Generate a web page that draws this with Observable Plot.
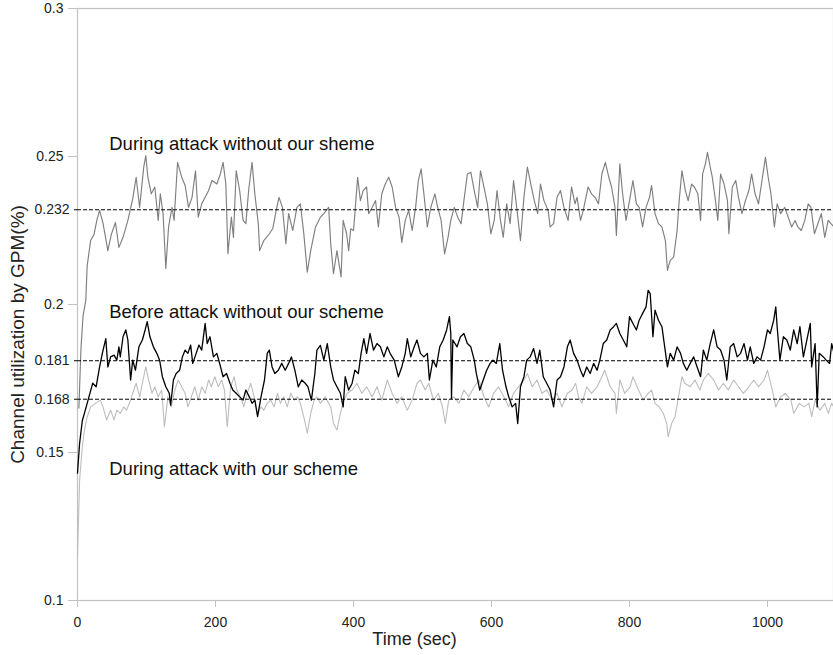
<!DOCTYPE html>
<html>
<head>
<meta charset="utf-8">
<script src="https://cdn.jsdelivr.net/npm/d3@7"></script>
<script src="https://cdn.jsdelivr.net/npm/@observablehq/plot@0.6"></script>
<style>
  html, body { margin: 0; padding: 0; background: #fff; }
</style>
</head>
<body>
<div id="chart"></div>
<script>
// ---- Data ----
// Series 1: During attack without our scheme (mid gray)
const attackNoSchemeT = [2,5,8,12,14,19,24,28,32,37,44,49,55,60,66,73,80,85,90,96,99,102,107,112,117,120,124,128,132,137,140,145,151,156,161,166,171,175,180,185,190,195,202,207,211,215,218,223,226,230,235,240,244,248,253,257,262,264,270,278,283,288,292,297,302,306,312,318,323,328,333,338,345,352,357,364,367,371,376,382,385,390,393,396,400,402,406,410,414,419,422,427,432,436,441,446,451,456,461,466,470,475,480,485,490,494,498,502,507,512,518,522,527,532,537,541,546,551,556,560,565,570,575,580,584,589,594,599,604,608,613,617,622,627,632,637,642,647,652,657,662,667,671,676,682,685,690,695,700,705,711,716,721,724,729,733,740,745,750,755,760,765,770,774,779,781,786,790,795,800,805,810,814,819,824,829,832,837,842,847,852,855,859,864,869,872,876,881,885,890,894,899,903,906,910,913,917,920,924,928,932,937,942,944,949,954,958,963,968,973,977,982,987,992,997,1001,1005,1010,1014,1019,1025,1030,1035,1040,1044,1049,1054,1059,1063,1068,1073,1078,1083,1088,1092,1097];
const attackNoSchemeV = [0.165,0.185,0.196,0.2014,0.213,0.2216,0.2237,0.2284,0.2318,0.2274,0.2182,0.2237,0.2277,0.2193,0.2227,0.2284,0.2357,0.243,0.2328,0.2464,0.2503,0.243,0.2374,0.2397,0.2284,0.2374,0.2307,0.2122,0.2262,0.2328,0.2284,0.248,0.243,0.2402,0.2328,0.2362,0.2452,0.2295,0.234,0.2362,0.2385,0.2419,0.2407,0.2441,0.248,0.2407,0.2172,0.2295,0.2227,0.2452,0.2385,0.2284,0.2273,0.2385,0.248,0.2374,0.2273,0.2182,0.2216,0.2239,0.2256,0.2318,0.2362,0.2328,0.2205,0.2307,0.225,0.2328,0.234,0.2239,0.2109,0.2182,0.2262,0.2295,0.2307,0.2328,0.2205,0.2104,0.2182,0.2093,0.2284,0.2239,0.2182,0.2256,0.225,0.2307,0.243,0.2351,0.2385,0.2397,0.2307,0.2328,0.2351,0.2262,0.2374,0.2407,0.243,0.2397,0.2328,0.2295,0.221,0.2284,0.2318,0.225,0.2328,0.2419,0.2458,0.2374,0.2262,0.2328,0.2374,0.2328,0.2284,0.2171,0.2227,0.2284,0.2328,0.2295,0.2273,0.2351,0.2441,0.2447,0.2385,0.2328,0.2452,0.2397,0.234,0.2239,0.2284,0.2385,0.2284,0.2227,0.234,0.2273,0.2419,0.2318,0.2216,0.2362,0.2464,0.2407,0.2351,0.2307,0.2407,0.2351,0.2318,0.2262,0.2273,0.2362,0.2385,0.2328,0.2284,0.2397,0.234,0.2362,0.2284,0.2318,0.2397,0.2374,0.2362,0.234,0.2441,0.248,0.243,0.2397,0.2328,0.2233,0.2475,0.2374,0.2284,0.2351,0.2419,0.234,0.2328,0.2262,0.2328,0.2362,0.2402,0.2307,0.2273,0.2262,0.2216,0.2115,0.2149,0.216,0.225,0.2351,0.2452,0.2385,0.2351,0.2407,0.2397,0.2374,0.2284,0.2441,0.2475,0.2514,0.2464,0.243,0.2362,0.2284,0.2441,0.2407,0.2351,0.2239,0.2397,0.2419,0.2362,0.2307,0.2351,0.2385,0.2441,0.2374,0.234,0.2419,0.2497,0.243,0.2374,0.2262,0.234,0.2307,0.2328,0.2295,0.2262,0.2284,0.2262,0.225,0.2284,0.234,0.2328,0.2239,0.2273,0.2307,0.2227,0.2284,0.2273,0.226];

// Series 2: Before attack without our scheme (black)
const beforeAttackT = [0,3,7,10,14,18,22,27,32,36,41,44,48,53,57,60,62,66,70,73,77,80,84,89,94,98,101,105,110,115,119,123,128,133,135,139,143,148,152,156,160,164,167,172,176,180,185,188,192,197,202,206,211,216,221,225,230,235,240,244,249,253,257,261,266,271,275,278,282,286,291,296,301,306,310,315,320,325,330,334,339,344,347,352,357,362,367,371,376,381,385,388,393,398,402,407,411,415,419,424,429,434,439,444,449,453,459,465,470,475,478,483,488,492,497,502,507,510,515,520,525,530,535,539,541,542,544,550,555,560,565,570,575,578,583,588,593,598,602,607,612,616,621,625,630,635,638,642,647,651,656,661,666,670,675,680,685,690,695,700,705,710,714,719,724,729,733,738,743,748,753,757,762,767,772,777,781,786,791,796,800,805,810,814,819,824,827,830,834,837,842,847,851,855,859,864,869,874,878,883,888,893,898,903,907,912,917,922,927,932,937,941,946,951,956,961,966,971,975,980,985,990,995,1000,1004,1009,1012,1014,1018,1023,1028,1033,1038,1043,1047,1052,1057,1062,1064,1069,1072,1075,1081,1085,1090,1093,1097];
const beforeAttackV = [0.143,0.153,0.1608,0.1632,0.1666,0.17,0.1734,0.1722,0.1789,0.1835,0.1885,0.1789,0.1823,0.1829,0.1812,0.1857,0.1823,0.1891,0.1914,0.188,0.1745,0.1812,0.1778,0.1857,0.188,0.1914,0.1942,0.1891,0.1857,0.1835,0.1812,0.1756,0.1722,0.17,0.166,0.1745,0.1767,0.1778,0.1823,0.1846,0.1835,0.1863,0.1801,0.1835,0.1863,0.1846,0.1936,0.1868,0.1891,0.1823,0.1835,0.1801,0.1756,0.1767,0.1734,0.1711,0.17,0.1688,0.1677,0.1711,0.1688,0.1666,0.1677,0.1621,0.1688,0.1745,0.1835,0.1846,0.1789,0.1767,0.1778,0.1801,0.1778,0.1801,0.1823,0.1778,0.1722,0.1745,0.1734,0.1722,0.1677,0.1767,0.1846,0.1862,0.1812,0.1868,0.1789,0.1745,0.1722,0.17,0.1654,0.1756,0.1711,0.1734,0.1778,0.1767,0.1835,0.1885,0.1835,0.1902,0.1846,0.1868,0.1857,0.1823,0.1857,0.1835,0.1812,0.1756,0.1789,0.1835,0.1885,0.1823,0.1857,0.188,0.1835,0.1823,0.1835,0.1745,0.1812,0.1789,0.1857,0.188,0.1914,0.1959,0.1902,0.1682,0.188,0.1857,0.1891,0.1902,0.1868,0.1857,0.1812,0.1767,0.1711,0.1745,0.1778,0.1801,0.1812,0.1801,0.1868,0.1778,0.1722,0.1688,0.1654,0.1666,0.1598,0.1722,0.1756,0.1812,0.1823,0.1851,0.1801,0.1846,0.1756,0.1734,0.1711,0.1654,0.1745,0.1756,0.1789,0.1857,0.188,0.1835,0.1812,0.1778,0.1756,0.1789,0.1767,0.1801,0.1778,0.1812,0.1868,0.188,0.1914,0.1925,0.1936,0.1902,0.188,0.1857,0.1959,0.1936,0.1914,0.1947,0.197,0.1992,0.2048,0.2037,0.1891,0.1981,0.1947,0.1925,0.1857,0.1789,0.1835,0.1812,0.1857,0.1835,0.1801,0.1778,0.1801,0.1823,0.1789,0.1756,0.1846,0.1812,0.1868,0.1914,0.1857,0.1846,0.1812,0.1745,0.1857,0.1868,0.1823,0.1835,0.1868,0.1812,0.1857,0.1801,0.1823,0.1812,0.1857,0.1914,0.1902,0.1947,0.1992,0.1925,0.1812,0.1891,0.188,0.1846,0.1914,0.1868,0.1925,0.1823,0.188,0.1936,0.1789,0.1868,0.1654,0.1835,0.1823,0.1812,0.1801,0.1868,0.183];

// Series 3: During attack with our scheme (light gray)
const attackSchemeT = [0,3,7,10,14,19,26,33,37,42,48,53,57,62,67,71,77,80,85,90,94,99,103,108,112,117,122,126,131,136,141,146,151,156,160,165,170,175,180,185,190,194,199,204,209,213,217,222,227,231,236,241,246,251,256,261,266,270,275,280,285,290,294,299,304,309,314,319,323,329,333,338,343,347,352,359,367,371,376,381,386,391,398,405,412,419,427,434,441,449,456,463,470,478,485,492,497,504,509,516,523,529,533,538,545,553,560,567,575,582,589,596,603,610,618,625,632,639,647,652,659,666,673,680,688,695,702,710,717,722,726,731,738,745,753,760,764,772,779,781,786,793,801,805,813,820,827,832,837,843,849,854,856,861,866,871,876,880,888,895,902,907,914,922,929,936,943,951,958,965,973,980,987,995,1000,1007,1012,1019,1026,1034,1038,1046,1053,1060,1064,1069,1076,1083,1088,1093,1097];
const attackSchemeV = [0.1146,0.1405,0.152,0.1574,0.162,0.1654,0.1666,0.1677,0.1654,0.161,0.1643,0.161,0.1643,0.1632,0.1654,0.1643,0.1677,0.17,0.1734,0.1688,0.1734,0.1789,0.1745,0.17,0.1722,0.1688,0.1711,0.1587,0.1688,0.1654,0.1711,0.1745,0.1722,0.17,0.1654,0.1688,0.1722,0.1677,0.1722,0.17,0.1745,0.1722,0.1756,0.1722,0.1745,0.1711,0.1587,0.1722,0.1756,0.1711,0.1688,0.1654,0.17,0.1734,0.1688,0.1632,0.1654,0.1643,0.1666,0.1677,0.1654,0.17,0.1666,0.1688,0.1654,0.17,0.1677,0.1688,0.1666,0.161,0.1565,0.1632,0.1677,0.1688,0.1666,0.1688,0.1654,0.1598,0.1576,0.1632,0.1677,0.17,0.1711,0.1734,0.17,0.1722,0.1688,0.1722,0.1677,0.1745,0.17,0.1666,0.1688,0.1643,0.1677,0.1734,0.1745,0.1711,0.1734,0.1677,0.17,0.1654,0.1598,0.1677,0.1688,0.1666,0.1711,0.1688,0.1722,0.1745,0.1688,0.1654,0.17,0.1722,0.1688,0.1654,0.17,0.1722,0.1745,0.1767,0.1722,0.1745,0.17,0.1711,0.1677,0.17,0.1654,0.17,0.1711,0.1734,0.1688,0.1666,0.1722,0.17,0.1722,0.1756,0.1778,0.1722,0.17,0.1632,0.1745,0.17,0.1722,0.1756,0.1711,0.1677,0.17,0.1711,0.1666,0.1654,0.1632,0.1598,0.1553,0.1598,0.1621,0.1688,0.1756,0.1734,0.1722,0.1745,0.1711,0.1745,0.1767,0.1745,0.1711,0.1734,0.1711,0.1745,0.1722,0.17,0.1722,0.1745,0.1722,0.1745,0.1778,0.1711,0.1654,0.1688,0.17,0.1677,0.1632,0.1666,0.1654,0.1666,0.1621,0.1677,0.1643,0.1666,0.1632,0.1666,0.165];

// Reference (mean) levels drawn as dashed lines, and axis ticks
const refLevels = [0.168, 0.181, 0.232];
const yTicks = [0.1, 0.15, 0.2, 0.25, 0.3];
const xTicks = [0, 200, 400, 600, 800, 1000];

// Series labels (anchored in data space)
const labelTexts = ["During attack without our sheme", "Before attack without our scheme", "During attack with our scheme"];
const labelTime = [46, 46, 46];
const labelValue = [0.2541, 0.1975, 0.1443];

const xTitle = "Time (sec)";
const yTitle = "Channel utilization by GPM(%)";

// ---- Build tables ----
const toRows = (T, V) => T.map((t, i) => ({t, v: V[i]}));
const s1 = toRows(attackNoSchemeT, attackNoSchemeV);
const s2 = toRows(beforeAttackT, beforeAttackV);
const s3 = toRows(attackSchemeT, attackSchemeV);
const labels = labelTexts.map((text, i) => ({text, t: labelTime[i], v: labelValue[i]}));

const axisGray = "#c2c2c2";
const font = "'Liberation Sans', Arial, Helvetica, sans-serif";

const chart = Plot.plot({
  width: 833,
  height: 655,
  marginLeft: 77,
  marginTop: 8,
  marginBottom: 55,
  marginRight: 0,
  style: {fontFamily: font, fontSize: "14px", color: "#222", background: "#fff", overflow: "visible"},
  x: {domain: [0, 1100], range: [77, 836]},
  y: {domain: [0.1, 0.3], range: [600, 8]},
  marks: [
    Plot.frame({stroke: axisGray, strokeWidth: 1.2}),
    Plot.axisY(yTicks, {tickSize: 9, tickPadding: 5, stroke: axisGray, fill: "#222", fontSize: 14, label: null, tickFormat: d => String(d)}),
    Plot.axisY(refLevels, {tickSize: 3, tickPadding: 5, stroke: "#000", strokeDasharray: "3,2", fill: "#222", fontSize: 14, label: null, tickFormat: d => String(d)}),
    Plot.axisX(xTicks, {tickSize: 7, tickPadding: 10, stroke: axisGray, fill: "#222", fontSize: 14, label: null, tickFormat: d => String(d)}),
    Plot.line(s3, {x: "t", y: "v", stroke: "#bdbdbd", strokeWidth: 1.1}),
    Plot.line(s2, {x: "t", y: "v", stroke: "#000", strokeWidth: 1.3}),
    Plot.line(s1, {x: "t", y: "v", stroke: "#7f7f7f", strokeWidth: 1.15}),
    Plot.ruleY(refLevels, {stroke: "#000", strokeDasharray: "4,2", strokeWidth: 1}),
    Plot.text(labels, {x: "t", y: "v", text: "text", textAnchor: "start", fontSize: 18.5, fill: "#111"}),
    Plot.text([xTitle], {frameAnchor: "bottom", dx: -41, dy: 44, fontSize: 18, fill: "#222"}),
    Plot.text([yTitle], {frameAnchor: "left", textAnchor: "middle", dx: -60, dy: 30, rotate: -90, fontSize: 19, fill: "#222"})
  ]
});

document.getElementById("chart").appendChild(chart);
</script>
</body>
</html>
